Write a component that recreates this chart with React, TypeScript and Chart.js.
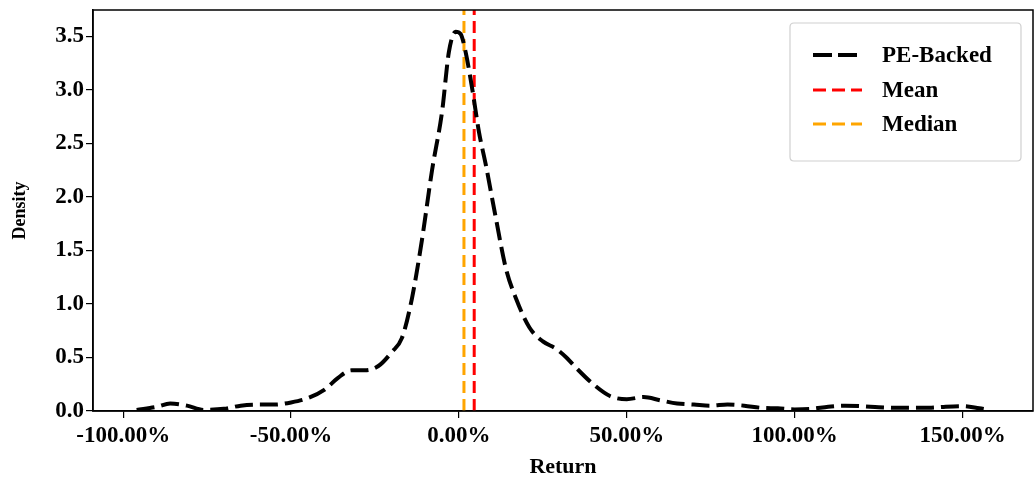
import React, { useEffect, useRef } from "react";
import { Chart, registerables } from "chart.js";

Chart.register(...registerables);

// Kernel density estimate of returns (x in %, y = density)
const returnPct: number[] = [
  -96, -90, -86, -81, -76, -70, -65, -60, -55, -50, -45, -40, -36, -32, -28, -24, -20, -17, -14, -11,
  -8, -5, -3, -1, 0.5, 2, 4, 6, 8, 11, 14, 17, 21, 25, 29, 32, 35, 40, 45, 50, 55, 60, 65, 70, 75, 80,
  85, 90, 95, 100, 105, 110, 115, 120, 125, 130, 135, 140, 145, 150, 155, 158,
];
const density: number[] = [
  0.01, 0.04, 0.07, 0.05, 0.01, 0.02, 0.05, 0.06, 0.06, 0.08, 0.12, 0.2, 0.31, 0.38, 0.38, 0.42, 0.55,
  0.68, 1.05, 1.6, 2.25, 2.8, 3.35, 3.54, 3.52, 3.35, 3.0, 2.6, 2.3, 1.8, 1.33, 1.05, 0.78, 0.65, 0.58,
  0.5, 0.4, 0.25, 0.14, 0.11, 0.13, 0.1, 0.07, 0.06, 0.05, 0.06, 0.05, 0.03, 0.025, 0.015, 0.02, 0.04,
  0.05, 0.045, 0.035, 0.03, 0.03, 0.03, 0.04, 0.045, 0.025, 0.01,
];
const meanReturn = 4.55;
const medianReturn = 1.5;

const xTicks: number[] = [-100, -50, 0, 50, 100, 150];
const yTicks: number[] = [0, 0.5, 1, 1.5, 2, 2.5, 3, 3.5];
const xMin = -109;
const xMax = 171;
const yMin = 0;
const yMax = 3.744;

const seriesLabels: string[] = ["PE-Backed", "Mean", "Median"];
const seriesColors: string[] = ["#000000", "#ff0000", "#ffa500"];

const FONT = "'Liberation Serif', 'Times New Roman', serif";

const frameAndLegend = {
  id: "frameAndLegend",
  afterDraw(chart: any) {
    const { ctx, chartArea } = chart;
    ctx.save();
    ctx.strokeStyle = "#000";
    ctx.lineWidth = 1.5;
    ctx.setLineDash([]);
    ctx.strokeRect(chartArea.left, chartArea.top, chartArea.right - chartArea.left, chartArea.bottom - chartArea.top);

    // legend
    const bw = 231;
    const bh = 138;
    const bx = chartArea.right - 12 - bw;
    const by = chartArea.top + 13;
    const r = 4;
    ctx.beginPath();
    ctx.moveTo(bx + r, by);
    ctx.lineTo(bx + bw - r, by);
    ctx.quadraticCurveTo(bx + bw, by, bx + bw, by + r);
    ctx.lineTo(bx + bw, by + bh - r);
    ctx.quadraticCurveTo(bx + bw, by + bh, bx + bw - r, by + bh);
    ctx.lineTo(bx + r, by + bh);
    ctx.quadraticCurveTo(bx, by + bh, bx, by + bh - r);
    ctx.lineTo(bx, by + r);
    ctx.quadraticCurveTo(bx, by, bx + r, by);
    ctx.closePath();
    ctx.fillStyle = "rgba(255,255,255,0.85)";
    ctx.fill();
    ctx.strokeStyle = "#d0d0d0";
    ctx.lineWidth = 1.2;
    ctx.stroke();

    const rowY = [by + 32, by + 67, by + 101];
    const styles = [
      { w: 4, dash: [19, 6] },
      { w: 3, dash: [13, 6] },
      { w: 3, dash: [13, 6] },
    ];
    seriesLabels.forEach((lab, i) => {
      const y = rowY[i];
      ctx.beginPath();
      ctx.strokeStyle = seriesColors[i];
      ctx.lineWidth = styles[i].w;
      ctx.setLineDash(styles[i].dash);
      ctx.moveTo(bx + 23, y);
      ctx.lineTo(bx + 72, y);
      ctx.stroke();
      ctx.setLineDash([]);
      ctx.fillStyle = "#000";
      ctx.font = `bold 23px ${FONT}`;
      ctx.textBaseline = "middle";
      ctx.textAlign = "left";
      ctx.fillText(lab, bx + 92, y + 1);
    });
    ctx.restore();
  },
};

export default function App() {
  const canvasRef = useRef<HTMLCanvasElement | null>(null);

  useEffect(() => {
    const canvas = canvasRef.current;
    if (!canvas) return;
    const curve = returnPct.map((x, i) => ({ x, y: density[i] }));
    const chart = new Chart(canvas, {
      type: "line",
      data: {
        datasets: [
          {
            label: seriesLabels[0],
            data: curve,
            borderColor: seriesColors[0],
            borderWidth: 4,
            borderDash: [18, 7],
            pointRadius: 0,
            cubicInterpolationMode: "monotone",
            fill: false,
          },
          {
            label: seriesLabels[1],
            data: [
              { x: meanReturn, y: yMin },
              { x: meanReturn, y: yMax },
            ],
            borderColor: seriesColors[1],
            borderWidth: 3,
            borderDash: [12, 6],
            pointRadius: 0,
            fill: false,
          },
          {
            label: seriesLabels[2],
            data: [
              { x: medianReturn, y: yMin },
              { x: medianReturn, y: yMax },
            ],
            borderColor: seriesColors[2],
            borderWidth: 3,
            borderDash: [12, 6],
            pointRadius: 0,
            fill: false,
          },
        ],
      },
      options: {
        animation: false,
        responsive: true,
        maintainAspectRatio: false,
        layout: { padding: { left: 0, right: 3, top: 10, bottom: 0 } },
        plugins: { legend: { display: false }, tooltip: { enabled: false } },
        scales: {
          x: {
            type: "linear",
            min: xMin,
            max: xMax,
            afterBuildTicks: (s: any) => {
              s.ticks = xTicks.map((v) => ({ value: v }));
            },
            afterFit: (s: any) => {
              s.height = 73;
              s.paddingLeft = 0;
              s.paddingRight = 0;
            },
            ticks: {
              color: "#000",
              font: { family: FONT, size: 23, weight: "bold" },
              padding: 4,
              maxRotation: 0,
              autoSkip: false,
              callback: (v: any) => Number(v).toFixed(2) + "%",
            },
            grid: { drawOnChartArea: false, drawTicks: true, tickLength: 7, color: "#000", lineWidth: 1.2 },
            border: { display: true, color: "#000", width: 1.5 },
            title: {
              display: true,
              text: "Return",
              color: "#000",
              font: { family: FONT, size: 22, weight: "bold" },
              padding: { top: 0, bottom: 3 },
            },
          },
          y: {
            type: "linear",
            min: yMin,
            max: yMax,
            afterBuildTicks: (s: any) => {
              s.ticks = yTicks.map((v) => ({ value: v }));
            },
            afterFit: (s: any) => {
              s.width = 93;
              s.paddingTop = 0;
              s.paddingBottom = 0;
            },
            ticks: {
              color: "#000",
              font: { family: FONT, size: 23, weight: "bold" },
              padding: 2,
              autoSkip: false,
              callback: (v: any) => Number(v).toFixed(1),
            },
            grid: { drawOnChartArea: false, drawTicks: true, tickLength: 7, color: "#000", lineWidth: 1.2 },
            border: { display: true, color: "#000", width: 1.5 },
            title: {
              display: true,
              text: "Density",
              color: "#000",
              font: { family: FONT, size: 18, weight: "bold" },
              padding: { top: 10, bottom: 0 },
            },
          },
        },
      },
      plugins: [frameAndLegend],
    });
    return () => chart.destroy();
  }, []);

  return (
    <div style={{ position: "fixed", left: 0, top: 0, width: 1036, height: 484, background: "#fff" }}>
      <canvas ref={canvasRef} />
    </div>
  );
}
